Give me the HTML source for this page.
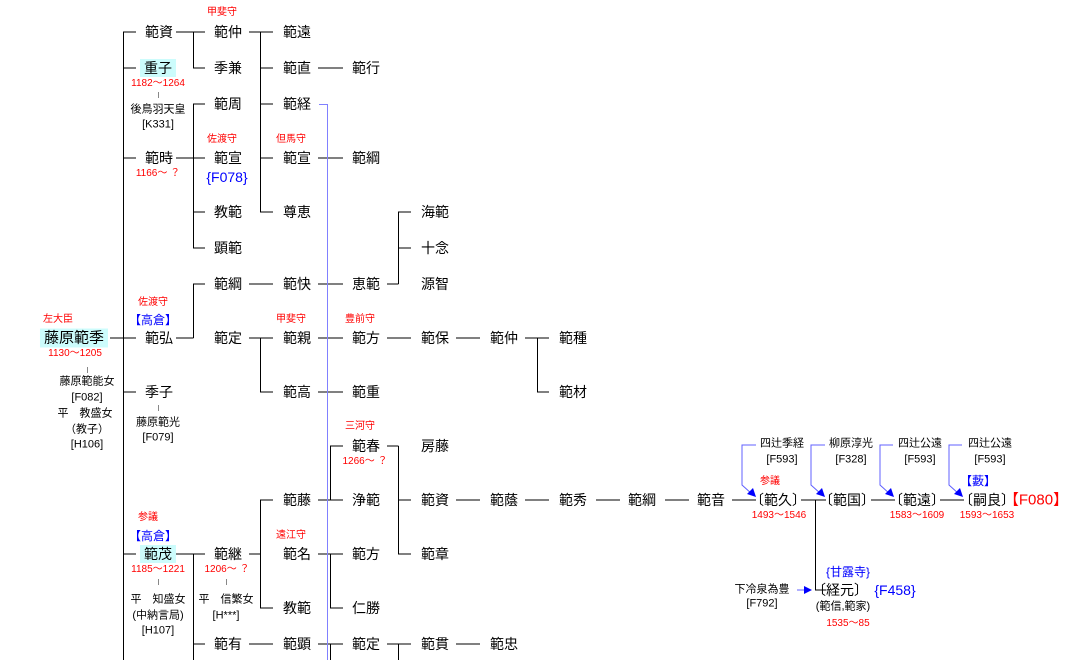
<!DOCTYPE html>
<html><head><meta charset="utf-8">
<style>
body{margin:0;width:1067px;height:660px;background:#fff;overflow:hidden;position:relative;font-family:"Liberation Sans","Noto Sans CJK JP",sans-serif;}
.t{position:absolute;transform:translate(-50%,-50%);white-space:nowrap;font-size:14px;color:#000;line-height:1;}
.r{color:#f00;font-size:10px;}
.b{color:#00f;}
.s{font-size:11px;}
.box{background:#ccfcfc;padding:2px 4px;}
svg{position:absolute;left:0;top:0;}
</style></head><body>
<svg width="1067" height="660">
<g stroke="#000" stroke-width="1" fill="none" shape-rendering="crispEdges">
<path d="M123.5 32V660"/>
<path d="M123 32H136M123 68H136M123 158H136M123 338H136M123 392H136M123 554H136M110 338H136"/>
<path d="M176 32H193.5M193.5 32V68M193 32H205M193 68H205"/>
<path d="M176 158H205M193.5 104V248M193 104H205M193 212H205M193 248H205"/>
<path d="M249 32H260.5M260.5 32V212M260 32H273M260 68H273M260 104H273M260 158H273M260 212H273"/>
<path d="M318 68H343M318 158H343"/>
<path d="M176 338H193.5M193.5 284V338M193 284H205"/>
<path d="M249 284H273M318 284H343M387 284H398.5M398.5 212V284M398 212H411M398 248H411"/>
<path d="M249 338H260.5M260.5 338V392M260 338H273M260 392H273M318 338H343M387 338H411M456 338H480M525 338H537.5M537.5 338V392M537 338H549M537 392H549M318 392H343"/>
<path d="M176 554H205M193.5 554V660M193 644H205"/>
<path d="M249 554H260.5M260.5 500V608M260 500H273M260 608H273"/>
<path d="M318 500H343M330.5 446V500M330 446H343M318 554H343M330.5 554V608M330 608H343"/>
<path d="M249 644H273M318 644H343M330.5 644V660"/>
<path d="M387 446H398.5M398.5 446V554M398 500H411M398 554H411M387 644H411M398.5 644V660M456 644H480"/>
<path d="M456 500H480M525 500H549M596 500H620M665 500H689M732 500H756M801 500H826M815.5 500V590M815 590H826M871 500H895M940 500H964"/>
</g>
<g stroke="#8080ff" stroke-width="1" fill="none" shape-rendering="crispEdges">
<path d="M319 104.5H327.5V660"/>
</g>
<g stroke="#6060ff" stroke-width="1" fill="none">
<path d="M756 445H742V485L752 494"/>
<path d="M825 445H811V485L821 494"/>
<path d="M893 445H880V485L890 494"/>
<path d="M962 445H949V485L959 494"/>
<path d="M797 590H806"/>
</g>
<g fill="#0000ff">
<path d="M756 497L747 494L753 488Z"/>
<path d="M825 497L816 494L822 488Z"/>
<path d="M894 497L885 494L891 488Z"/>
<path d="M963 497L954 494L960 488Z"/>
<path d="M812 590L804 586V594Z"/>
</g>
<g stroke="#888" fill="none" shape-rendering="crispEdges">
<path d="M87.5 367V373M158.5 92V98M158.5 405V411M158.5 579V585M226.5 579V585"/>
</g>
</svg>

<div class="t r" style="left:58px;top:320px">左大臣</div>
<div class="t box" style="left:74px;top:338px;font-size:15px">藤原範季</div>
<div class="t r" style="left:75px;top:354px">1130～1205</div>
<div class="t s" style="left:87px;top:382px">藤原範能女</div>
<div class="t s" style="left:87px;top:398px">[F082]</div>
<div class="t s" style="left:85px;top:414px">平　教盛女</div>
<div class="t s" style="left:87px;top:430px">（教子）</div>
<div class="t s" style="left:87px;top:445px">[H106]</div>

<div class="t" style="left:159px;top:32px">範資</div>
<div class="t box" style="left:158px;top:68px">重子</div>
<div class="t r" style="left:158px;top:84px">1182～1264</div>
<div class="t s" style="left:158px;top:110px">後鳥羽天皇</div>
<div class="t s" style="left:158px;top:125px">[K331]</div>
<div class="t" style="left:159px;top:158px">範時</div>
<div class="t r" style="left:158px;top:174px">1166～ ？</div>
<div class="t r" style="left:153px;top:303px">佐渡守</div>
<div class="t b" style="left:153px;top:320px;font-size:12px">【高倉】</div>
<div class="t" style="left:159px;top:338px">範弘</div>
<div class="t" style="left:159px;top:392px">季子</div>
<div class="t s" style="left:158px;top:423px">藤原範光</div>
<div class="t s" style="left:158px;top:438px">[F079]</div>
<div class="t r" style="left:148px;top:518px">参議</div>
<div class="t b" style="left:153px;top:536px;font-size:12px">【高倉】</div>
<div class="t box" style="left:158px;top:554px">範茂</div>
<div class="t r" style="left:158px;top:570px">1185～1221</div>
<div class="t s" style="left:158px;top:600px">平　知盛女</div>
<div class="t s" style="left:158px;top:616px">(中納言局)</div>
<div class="t s" style="left:158px;top:631px">[H107]</div>

<div class="t r" style="left:222px;top:13px">甲斐守</div>
<div class="t" style="left:228px;top:32px">範仲</div>
<div class="t" style="left:228px;top:68px">季兼</div>
<div class="t" style="left:228px;top:104px">範周</div>
<div class="t r" style="left:222px;top:140px">佐渡守</div>
<div class="t" style="left:228px;top:158px">範宣</div>
<div class="t b" style="left:227px;top:177px">{F078}</div>
<div class="t" style="left:228px;top:212px">教範</div>
<div class="t" style="left:228px;top:248px">顕範</div>
<div class="t" style="left:228px;top:284px">範綱</div>
<div class="t" style="left:228px;top:338px">範定</div>
<div class="t" style="left:228px;top:554px">範継</div>
<div class="t r" style="left:227px;top:570px">1206～ ？</div>
<div class="t s" style="left:226px;top:600px">平　信繁女</div>
<div class="t s" style="left:226px;top:616px">[H***]</div>
<div class="t" style="left:228px;top:644px">範有</div>

<div class="t" style="left:297px;top:32px">範遠</div>
<div class="t" style="left:297px;top:68px">範直</div>
<div class="t" style="left:297px;top:104px">範経</div>
<div class="t r" style="left:291px;top:140px">但馬守</div>
<div class="t" style="left:297px;top:158px">範宣</div>
<div class="t" style="left:297px;top:212px">尊恵</div>
<div class="t" style="left:297px;top:284px">範快</div>
<div class="t r" style="left:291px;top:320px">甲斐守</div>
<div class="t" style="left:297px;top:338px">範親</div>
<div class="t" style="left:297px;top:392px">範高</div>
<div class="t" style="left:297px;top:500px">範藤</div>
<div class="t r" style="left:291px;top:536px">遠江守</div>
<div class="t" style="left:297px;top:554px">範名</div>
<div class="t" style="left:297px;top:608px">教範</div>
<div class="t" style="left:297px;top:644px">範顕</div>

<div class="t" style="left:366px;top:68px">範行</div>
<div class="t" style="left:366px;top:158px">範綱</div>
<div class="t" style="left:366px;top:284px">恵範</div>
<div class="t r" style="left:360px;top:320px">豊前守</div>
<div class="t" style="left:366px;top:338px">範方</div>
<div class="t" style="left:366px;top:392px">範重</div>
<div class="t r" style="left:360px;top:427px">三河守</div>
<div class="t" style="left:366px;top:446px">範春</div>
<div class="t r" style="left:365px;top:462px">1266～ ？</div>
<div class="t" style="left:366px;top:500px">浄範</div>
<div class="t" style="left:366px;top:554px">範方</div>
<div class="t" style="left:366px;top:608px">仁勝</div>
<div class="t" style="left:366px;top:644px">範定</div>

<div class="t" style="left:435px;top:212px">海範</div>
<div class="t" style="left:435px;top:248px">十念</div>
<div class="t" style="left:435px;top:284px">源智</div>
<div class="t" style="left:435px;top:338px">範保</div>
<div class="t" style="left:435px;top:446px">房藤</div>
<div class="t" style="left:435px;top:500px">範資</div>
<div class="t" style="left:435px;top:554px">範章</div>
<div class="t" style="left:435px;top:644px">範貫</div>

<div class="t" style="left:504px;top:338px">範仲</div>
<div class="t" style="left:504px;top:500px">範蔭</div>
<div class="t" style="left:504px;top:644px">範忠</div>
<div class="t" style="left:573px;top:338px">範種</div>
<div class="t" style="left:573px;top:392px">範材</div>
<div class="t" style="left:573px;top:500px">範秀</div>
<div class="t" style="left:642px;top:500px">範綱</div>
<div class="t" style="left:711px;top:500px">範音</div>

<div class="t s" style="left:782px;top:444px">四辻季経</div>
<div class="t s" style="left:782px;top:460px">[F593]</div>
<div class="t s" style="left:851px;top:444px">柳原淳光</div>
<div class="t s" style="left:851px;top:460px">[F328]</div>
<div class="t s" style="left:920px;top:444px">四辻公遠</div>
<div class="t s" style="left:920px;top:460px">[F593]</div>
<div class="t s" style="left:990px;top:444px">四辻公遠</div>
<div class="t s" style="left:990px;top:460px">[F593]</div>
<div class="t r" style="left:770px;top:482px">参議</div>
<div class="t b" style="left:978px;top:481px;font-size:12px">【藪】</div>
<div class="t" style="left:778px;top:500px">〔範久〕</div>
<div class="t" style="left:847px;top:500px">〔範国〕</div>
<div class="t" style="left:917px;top:500px">〔範遠〕</div>
<div class="t" style="left:987px;top:500px">〔嗣良〕</div>
<div class="t" style="left:1036px;top:500px;color:#f00;font-size:15px">【F080】</div>
<div class="t r" style="left:779px;top:516px">1493～1546</div>
<div class="t r" style="left:917px;top:516px">1583～1609</div>
<div class="t r" style="left:987px;top:516px">1593～1653</div>
<div class="t b s" style="left:848px;top:572px;font-size:12px">{甘露寺}</div>
<div class="t" style="left:840px;top:590px">〔経元〕</div>
<div class="t b" style="left:895px;top:590px">{F458}</div>
<div class="t s" style="left:843px;top:607px">(範信,範家)</div>
<div class="t r" style="left:848px;top:624px">1535～85</div>
<div class="t s" style="left:762px;top:590px">下冷泉為豊</div>
<div class="t s" style="left:762px;top:604px">[F792]</div>
</body></html>
